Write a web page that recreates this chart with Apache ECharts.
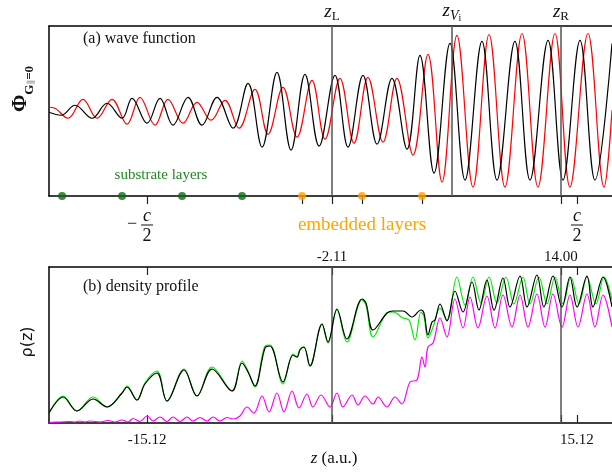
<!DOCTYPE html>
<html><head><meta charset="utf-8">
<script src="https://cdn.jsdelivr.net/npm/echarts@6/dist/echarts.min.js"></script>
<style>html,body{margin:0;padding:0;background:#fff}#c{width:612px;height:476px}</style>
</head><body><div id="c"></div>
<script>
// ---------- data (z in a.u.) ----------
const waveZBlack = [-22.02,-21.17,-20.19,-18.99,-17.94,-16.88,-16.18,-15.12,-14.21,-13.30,-12.24,-11.26,-10.20,-9.07,-8.02,-7.03,-5.98,-4.99,-4.01,-3.02,-1.90,-0.98,0.07,1.06,2.11,3.17,4.08,5.07,6.19,7.25,8.44,9.50,10.76,11.82,13.09,14.14,15.34,16.39,17.59];
const wavePhiBlack = [-0.04,-0.10,0.10,-0.16,0.14,-0.16,0.24,-0.26,0.24,-0.30,0.26,-0.30,0.26,-0.36,0.54,-0.74,0.76,-0.80,0.72,-0.72,0.70,-0.74,0.70,-0.68,0.64,-0.78,1.10,-1.26,1.34,-1.40,1.38,-1.40,1.38,-1.40,1.40,-1.40,1.40,-1.40,1.34];
const waveZRed = [-22.02,-21.60,-20.68,-19.63,-18.64,-17.59,-16.53,-15.62,-14.56,-13.65,-12.59,-11.61,-10.62,-9.64,-8.65,-7.53,-6.61,-5.56,-4.57,-3.52,-2.60,-1.55,-0.56,0.42,1.48,2.46,3.59,4.64,5.63,6.68,7.81,8.94,10.06,11.26,12.38,13.58,14.63,15.90,17.03,17.59];
const wavePhiRed = [0.06,0.04,-0.16,0.22,-0.16,0.22,-0.28,0.26,-0.30,0.22,-0.26,0.16,-0.20,0.20,-0.36,0.42,-0.48,0.46,-0.54,0.60,-0.58,0.64,-0.66,0.66,-0.64,0.64,-0.90,1.12,-1.44,1.50,-1.54,1.52,-1.54,1.54,-1.54,1.54,-1.54,1.54,-1.54,0.00];

const rhoZBlack = [-22.02,-21.03,-20.05,-18.92,-17.94,-16.88,-16.53,-15.83,-15.27,-14.42,-13.72,-12.52,-11.61,-10.55,-9.14,-8.44,-8.02,-7.53,-6.82,-6.47,-5.56,-4.85,-4.57,-4.36,-4.08,-3.66,-2.81,-2.39,-1.76,-1.06,0.00,0.28,0.78,1.76,2.18,2.89,3.52,4.15,4.36,4.64,4.93,5.14,5.49,5.98,6.54,7.11,7.74,8.23,8.79,9.29,9.92,10.41,11.12,11.61,12.31,12.80,13.44,14.07,14.63,15.13,15.83,16.25,16.96,17.59];
const rhoBlack = [0.10,0.26,0.12,0.24,0.16,0.30,0.36,0.23,0.39,0.50,0.22,0.53,0.27,0.54,0.32,0.60,0.51,0.37,0.75,0.77,0.41,0.68,0.66,0.73,0.76,0.57,0.99,0.81,1.14,0.84,1.24,1.20,0.93,1.10,1.12,1.12,1.06,1.13,1.10,0.88,1.01,1.03,1.19,1.02,1.32,1.11,1.41,1.13,1.43,1.13,1.45,1.16,1.47,1.16,1.48,1.16,1.47,1.16,1.46,1.16,1.47,1.16,1.46,1.16];
const rhoZGreen = [-22.02,-21.03,-20.05,-18.92,-17.94,-16.88,-16.53,-15.83,-15.27,-14.42,-13.72,-12.52,-11.61,-10.55,-9.14,-8.44,-8.02,-7.53,-6.82,-6.47,-5.56,-4.85,-4.57,-4.36,-4.08,-3.66,-2.81,-2.39,-1.76,-1.06,0.00,0.28,0.78,1.76,2.18,2.89,3.31,3.73,4.15,4.36,4.64,5.00,5.49,5.98,6.68,7.25,7.81,8.37,8.94,9.50,10.13,10.69,11.33,11.82,12.45,13.02,13.58,14.14,14.70,15.27,15.83,16.46,17.03,17.59];
const rhoGreen = [0.10,0.27,0.12,0.26,0.16,0.30,0.37,0.23,0.40,0.52,0.22,0.54,0.27,0.56,0.32,0.62,0.52,0.36,0.77,0.78,0.39,0.69,0.66,0.74,0.76,0.57,0.99,0.80,1.13,0.81,1.23,1.18,0.86,1.10,1.11,1.05,1.03,0.83,1.11,1.07,0.85,0.96,1.15,1.03,1.46,1.18,1.46,1.20,1.46,1.20,1.46,1.19,1.46,1.19,1.46,1.19,1.46,1.19,1.46,1.19,1.46,1.19,1.46,1.23];
const rhoZMagenta = [-22.02,-21.25,-20.54,-20.19,-19.84,-19.49,-19.13,-18.43,-17.87,-17.38,-16.88,-16.46,-16.11,-15.62,-15.12,-14.70,-14.21,-13.72,-13.30,-12.80,-12.31,-11.89,-11.40,-10.90,-10.48,-9.99,-9.50,-9.07,-8.58,-8.09,-7.60,-7.03,-6.54,-5.98,-5.49,-4.92,-4.43,-3.87,-3.45,-2.88,-2.25,-1.76,-1.34,-0.70,-0.28,0.21,0.78,1.13,1.76,2.32,2.81,3.38,3.87,4.22,4.43,4.64,5.00,5.49,5.98,6.54,7.11,7.60,8.16,8.79,9.36,9.92,10.55,11.12,11.68,12.31,12.88,13.44,14.07,14.63,15.20,15.83,16.39,16.96,17.59];
const rhoMagenta = [0.005,0.01,0.015,0.01,0.02,0.01,0.02,0.01,0.025,0.01,0.03,0.01,0.045,0.015,0.07,0.02,0.06,0.015,0.06,0.015,0.06,0.02,0.055,0.02,0.06,0.02,0.055,0.04,0.07,0.16,0.10,0.27,0.11,0.30,0.11,0.32,0.15,0.29,0.16,0.28,0.16,0.30,0.16,0.28,0.18,0.27,0.19,0.26,0.16,0.26,0.19,0.41,0.43,0.66,0.56,0.76,0.80,1.05,0.86,1.24,0.95,1.26,0.95,1.27,0.95,1.28,0.96,1.28,0.96,1.29,0.96,1.29,0.96,1.28,0.96,1.29,0.96,1.28,0.96];

const substrateZ = [-21.10,-16.88,-12.66,-8.44];
const embeddedZ = [-4.22,0.00,4.22];
const markerZ = [-2.11,6.33,14.00];
const markerNames = ['L','Vi','R'];
const densityMarkZ = [-2.11,14.00];
const fracTicks = [-15.12,15.12];
const zTicksTop = [-15.12,-4.22,-2.11,0.00,4.22,14.00,15.12];
const zTicksBottom = [-15.12,-2.11,14.00,15.12];

// ---------- chart ----------
const SERIF = 'Liberation Serif, DejaVu Serif, serif';
const zMin = -22.02, zMax = 17.59, phiMin = -1.72, phiMax = 1.69, rhoMin = 0, rhoMax = 1.56;
const zip = (a, b) => a.map((v, i) => [v, b[i]]);
const chart = echarts.init(document.getElementById('c'), null, {renderer: 'canvas'});

const frameLine = {show: true, onZero: false, lineStyle: {color: '#000', width: 1.5}};
function xAx(grid, pos, extra) {
  return Object.assign({
    type: 'value', gridIndex: grid, position: pos, min: zMin, max: zMax,
    axisLine: frameLine, axisTick: {show: false}, axisLabel: {show: false}, splitLine: {show: false}
  }, extra || {});
}
const tickStyle = {lineStyle: {color: '#222', width: 1.2}};

const option = {
  animation: false,
  backgroundColor: '#fff',
  grid: [
    {left: 49, top: 26, right: 0, height: 170},
    {left: 49, top: 267, right: 0, height: 156}
  ],
  xAxis: [
    xAx(0, 'bottom', {axisTick: Object.assign({show: true, inside: false, length: 8, customValues: zTicksTop}, tickStyle)}),
    xAx(0, 'top'),
    xAx(1, 'top', {
      axisTick: Object.assign({show: true, inside: true, length: 8, customValues: zTicksBottom}, tickStyle),
      axisLabel: {show: true, customValues: densityMarkZ, formatter: v => v.toFixed(2), margin: 2,
        fontFamily: SERIF, fontSize: 15, color: '#111'}
    }),
    xAx(1, 'bottom', {
      axisTick: Object.assign({show: true, inside: true, length: 8, customValues: zTicksBottom}, tickStyle),
      axisLabel: {show: true, customValues: fracTicks, formatter: v => v.toFixed(2), margin: 10,
        fontFamily: SERIF, fontSize: 15, color: '#111'}
    })
  ],
  yAxis: [
    {type: 'value', gridIndex: 0, min: phiMin, max: phiMax, axisLine: frameLine,
     axisTick: {show: false}, axisLabel: {show: false}, splitLine: {show: false}},
    {type: 'value', gridIndex: 1, min: rhoMin, max: rhoMax, axisLine: frameLine,
     axisTick: {show: false}, axisLabel: {show: false}, splitLine: {show: false}}
  ],
  series: [
    {type: 'line', xAxisIndex: 0, yAxisIndex: 0, data: zip(waveZRed, wavePhiRed), smooth: 0.38,
     showSymbol: false, symbol: 'none', lineStyle: {color: '#ff0000', width: 1.2}, z: 3},
    {type: 'line', xAxisIndex: 0, yAxisIndex: 0, data: zip(waveZBlack, wavePhiBlack), smooth: 0.38,
     showSymbol: false, symbol: 'none', lineStyle: {color: '#000', width: 1.2}, z: 4,
     markLine: {
       silent: true, symbol: ['none', 'none'], animation: false,
       lineStyle: {color: '#555', width: 1.5, type: 'solid'},
       label: {show: true, position: 'end', distance: 3,
         formatter: p => p.name === 'Vi' ? '{zt|z}{v|V}{i|i}' : '{z|z}{s|' + p.name + '}',
         rich: {
           z: {fontFamily: SERIF, fontStyle: 'italic', fontSize: 19, lineHeight: 22, color: '#111'},
           s: {fontFamily: SERIF, fontSize: 13, lineHeight: 13, verticalAlign: 'bottom', color: '#111'},
           zt: {fontFamily: SERIF, fontStyle: 'italic', fontSize: 19, lineHeight: 10, verticalAlign: 'top', color: '#111'},
           v: {fontFamily: SERIF, fontStyle: 'italic', fontSize: 14, lineHeight: 22, verticalAlign: 'bottom', color: '#111'},
           i: {fontFamily: SERIF, fontSize: 10, lineHeight: 9, verticalAlign: 'bottom', color: '#111'}
         }},
       data: markerZ.map((z, i) => ({xAxis: z, name: markerNames[i]}))
     }},
    {type: 'scatter', xAxisIndex: 0, yAxisIndex: 0, data: substrateZ.map(z => [z, phiMin]),
     symbolSize: 8, clip: false, itemStyle: {color: '#116a11'}, z: 6},
    {type: 'scatter', xAxisIndex: 0, yAxisIndex: 0, data: embeddedZ.map(z => [z, phiMin]),
     symbolSize: 8, clip: false, itemStyle: {color: '#ffa000'}, z: 6},
    {type: 'line', xAxisIndex: 2, yAxisIndex: 1, data: zip(rhoZMagenta, rhoMagenta), smooth: 0.36,
     showSymbol: false, symbol: 'none', lineStyle: {color: '#ff00ff', width: 1.2}, z: 3,
     markLine: {silent: true, symbol: ['none', 'none'], animation: false, label: {show: false},
       lineStyle: {color: '#555', width: 1.5, type: 'solid'},
       data: densityMarkZ.map(z => ({xAxis: z}))}},
    {type: 'line', xAxisIndex: 2, yAxisIndex: 1, data: zip(rhoZGreen, rhoGreen), smooth: 0.36,
     showSymbol: false, symbol: 'none', lineStyle: {color: '#00ee00', width: 1.2}, z: 4},
    {type: 'line', xAxisIndex: 2, yAxisIndex: 1, data: zip(rhoZBlack, rhoBlack), smooth: 0.36,
     showSymbol: false, symbol: 'none', lineStyle: {color: '#000', width: 1.2}, z: 5}
  ]
};
chart.setOption(option);

// text decorations (positions derived from the axis scale where tied to values)
const g = [];
const bottomA = chart.convertToPixel({yAxisIndex: 0}, phiMin);
fracTicks.forEach(v => {
  const px = chart.convertToPixel({xAxisIndex: 0}, v);
  g.push({type: 'text', x: px, y: bottomA + 20, style: {text: 'c', font: 'italic 18px ' + SERIF, fill: '#111', align: 'center', verticalAlign: 'middle'}});
  g.push({type: 'line', shape: {x1: px - 6, y1: bottomA + 29, x2: px + 6, y2: bottomA + 29}, style: {stroke: '#111', lineWidth: 1}});
  g.push({type: 'text', x: px, y: bottomA + 40, style: {text: '2', font: '18px ' + SERIF, fill: '#111', align: 'center', verticalAlign: 'middle'}});
  if (v < 0) g.push({type: 'text', x: px - 15, y: bottomA + 28, style: {text: '\u2212', font: '18px ' + SERIF, fill: '#111', align: 'center', verticalAlign: 'middle'}});
});
g.push({type: 'text', x: 83, y: 39, style: {text: '(a) wave function', font: '16px ' + SERIF, fill: '#111', verticalAlign: 'middle'}});
g.push({type: 'text', x: 83, y: 287, style: {text: '(b) density profile', font: '16px ' + SERIF, fill: '#111', verticalAlign: 'middle'}});
g.push({type: 'text', x: 161, y: 175, style: {text: 'substrate layers', font: '15px ' + SERIF, fill: '#1f8a1f', align: 'center', verticalAlign: 'middle'}});
g.push({type: 'text', x: 362, y: 225, style: {text: 'embedded layers', font: '19px ' + SERIF, fill: '#ffa500', align: 'center', verticalAlign: 'middle'}});
g.push({type: 'text', x: 334, y: 459, style: {text: '{i|z} (a.u.)', font: '17px ' + SERIF, fill: '#111', align: 'center', verticalAlign: 'middle',
  rich: {i: {fontStyle: 'italic', fontFamily: SERIF, fontSize: 17, fill: '#111'}}}});
g.push({type: 'text', x: 21, y: 89, rotation: Math.PI / 2, style: {
  text: '{p|\u03A6}{g|G}{par|\u2225}{e|=0}', align: 'center', verticalAlign: 'middle',
  rich: {
    p: {fontFamily: SERIF, fontWeight: 'bold', fontSize: 21, lineHeight: 30, fill: '#111'},
    g: {fontFamily: SERIF, fontWeight: 'bold', fontSize: 13, lineHeight: 6, verticalAlign: 'bottom', fill: '#111'},
    par: {fontFamily: SERIF, fontWeight: 'bold', fontSize: 9, lineHeight: 2, verticalAlign: 'bottom', fill: '#999'},
    e: {fontFamily: SERIF, fontWeight: 'bold', fontSize: 13, lineHeight: 6, verticalAlign: 'bottom', fill: '#111'}
  }}});
g.push({type: 'text', x: 28, y: 342, rotation: Math.PI / 2, style: {text: '\u03C1(z)', font: '16px DejaVu Sans, sans-serif', fill: '#111', align: 'center', verticalAlign: 'middle'}});
chart.setOption({graphic: {elements: g}});
</script>
</body></html>
